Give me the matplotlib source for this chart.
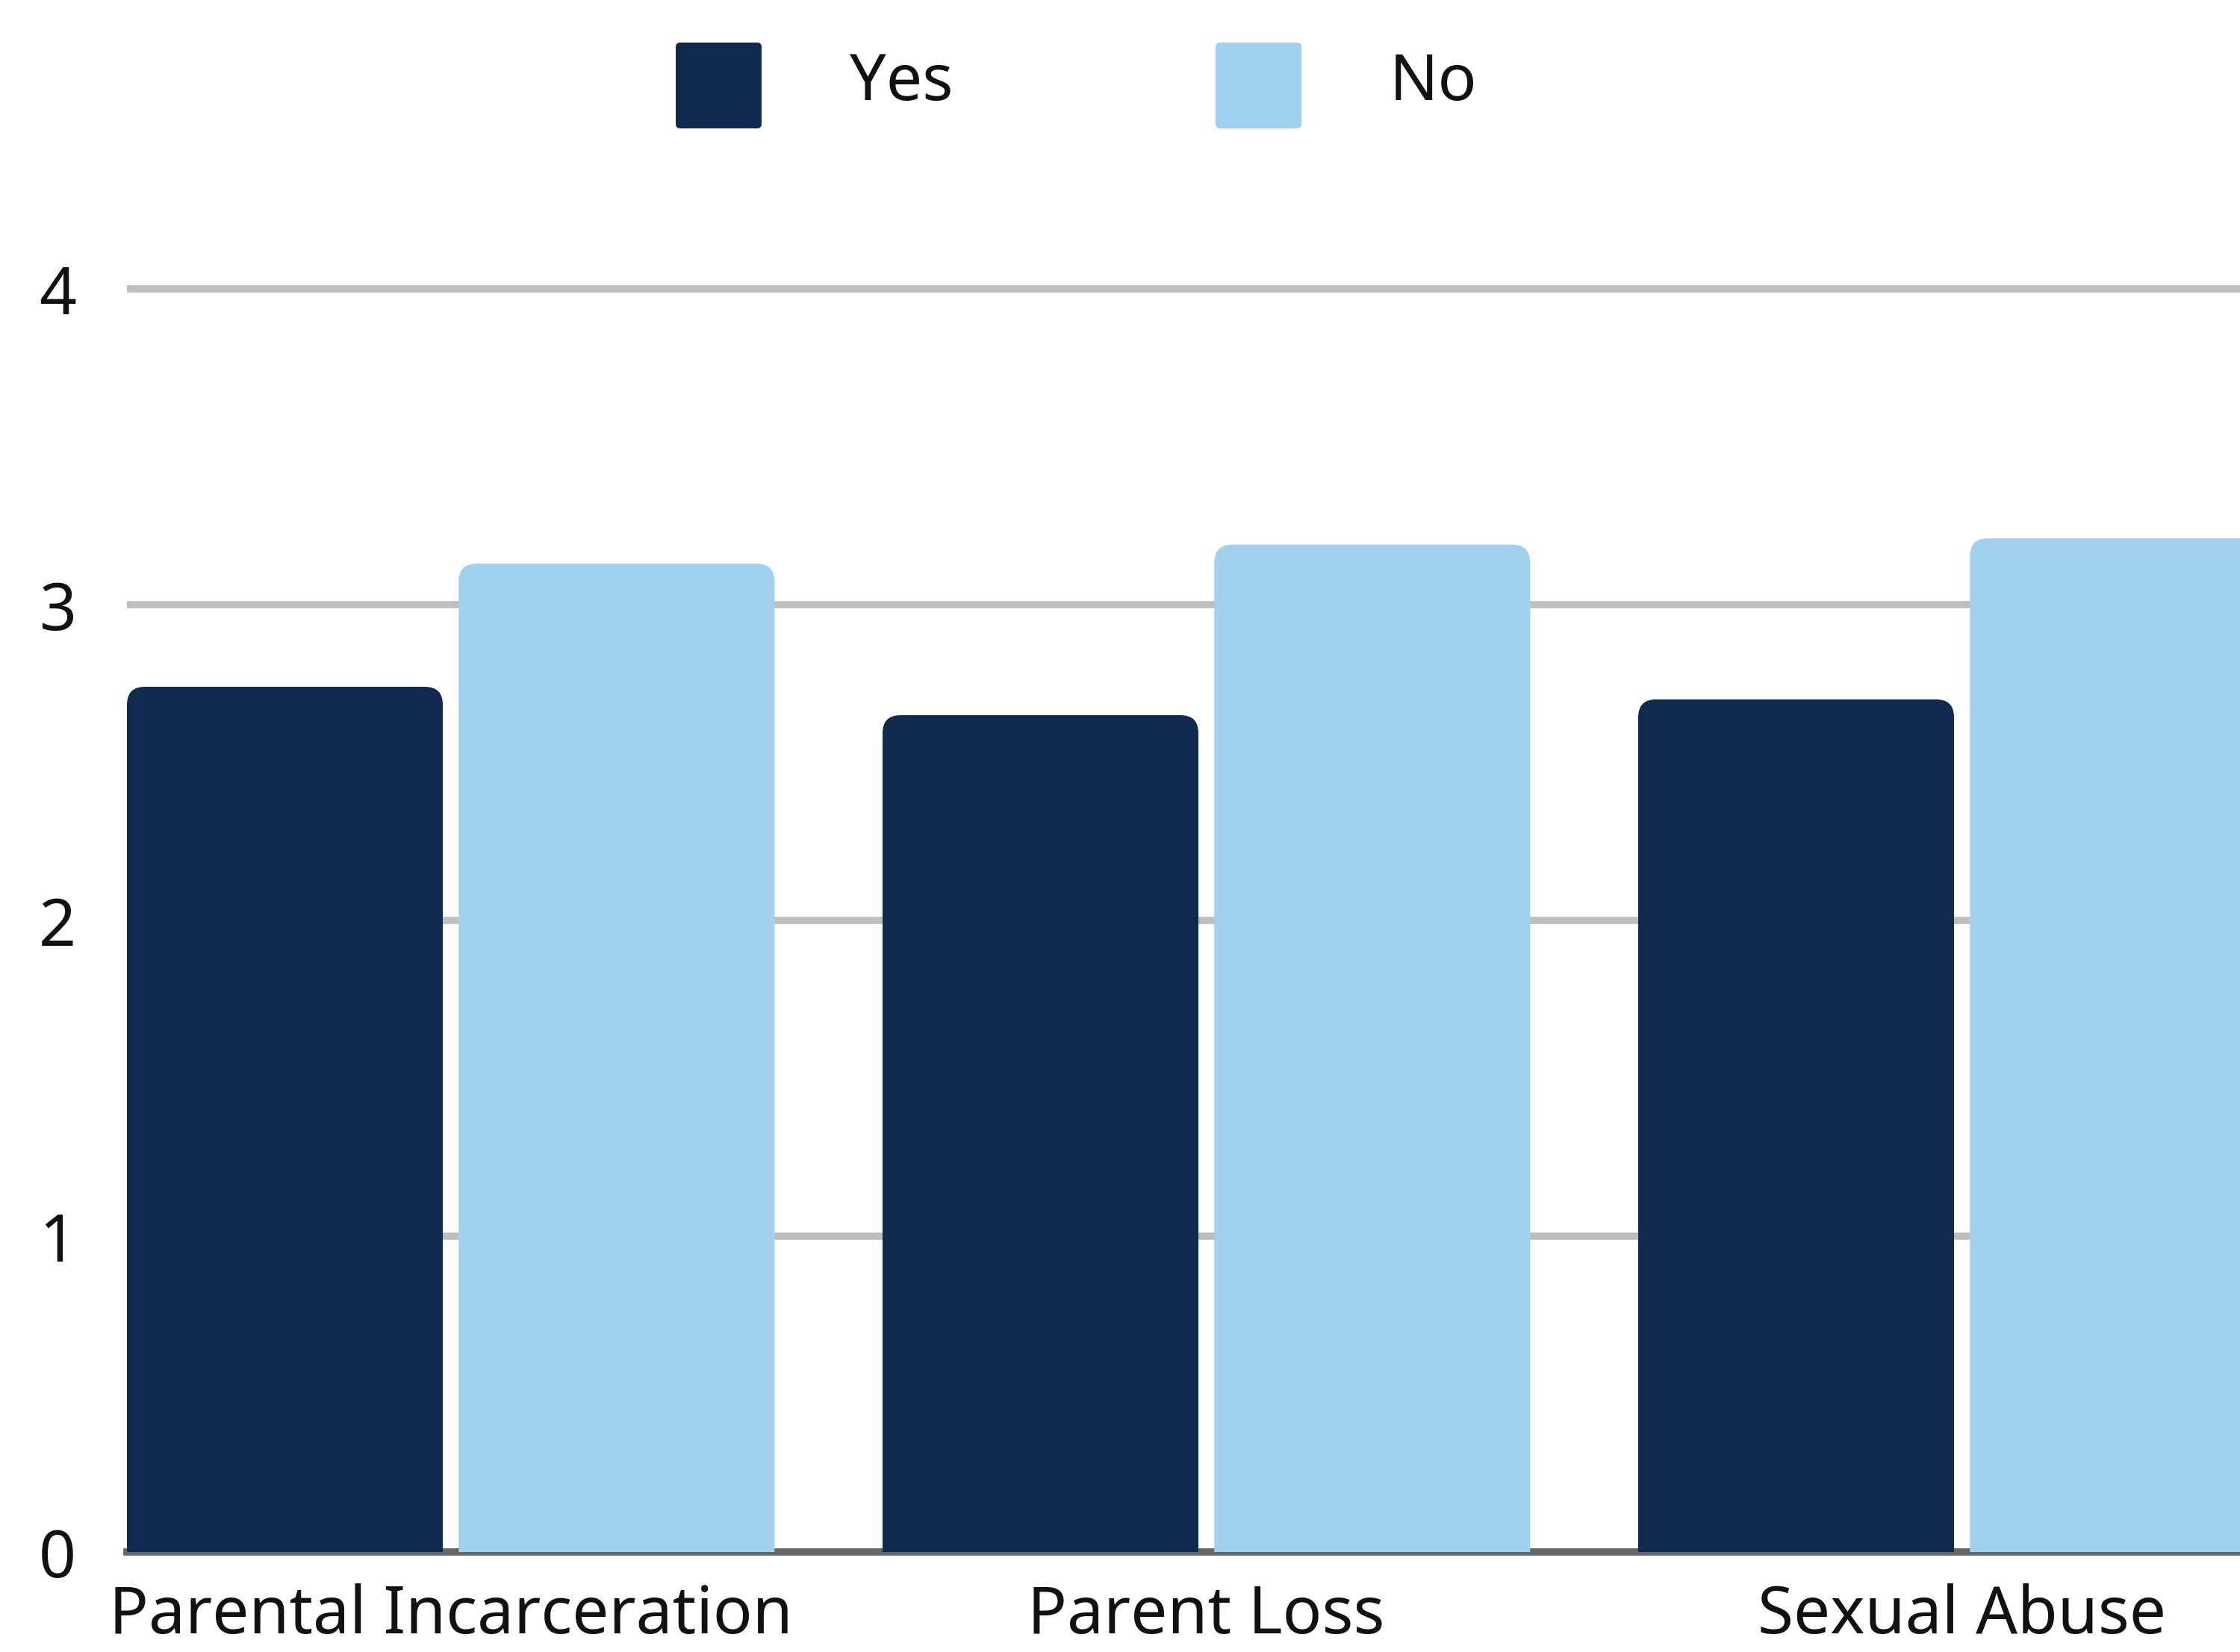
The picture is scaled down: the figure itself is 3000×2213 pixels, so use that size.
import numpy as np
import matplotlib
matplotlib.use("Agg")
import matplotlib.pyplot as plt
from matplotlib.patches import FancyBboxPatch

# data
categories = ["Parental Incarceration", "Parent Loss", "Sexual Abuse"]
yes_vals = [2.74, 2.65, 2.70]
no_vals = [3.13, 3.19, 3.21]
series_names = ["Yes", "No"]
yticks = [0, 1, 2, 3, 4]

navy = "#12294f"
light = "#a1d1ef"

plt.rcParams['font.family'] = ['Noto Sans', 'DejaVu Sans']

W, H = 3000, 2213
fig = plt.figure(figsize=(W / 100, H / 100), dpi=100)

# axes geometry (pixels)
left_px, base_px, unit_px = 170, 2079, 423
ymax = 4.2
ax = fig.add_axes([left_px / W, 1 - base_px / H, 1 - left_px / W, ymax * unit_px / H])

bw = 0.418
gap = 0.021
off = bw / 2 + gap / 2
x = np.arange(len(categories))
xmin = -off - bw / 2
xmax = xmin + (W - left_px) / 1012
ax.set_xlim(xmin, xmax)
ax.set_ylim(0, ymax)

# rounded tops
px_x = (W - left_px) / (xmax - xmin)
px_y = unit_px
r_px = 24
rx = r_px / px_x
aspect = px_x / px_y


def rounded_bars(xs, vals, color):
    bars = ax.bar(xs, vals, bw, color=color)
    for rect in bars:
        rect.set_visible(False)
        bx, by = rect.get_x(), rect.get_y()
        w, h = rect.get_width(), rect.get_height()
        ry = rx * aspect
        p = FancyBboxPatch((bx, by - ry), w, h + ry,
                           boxstyle="round,pad=0,rounding_size=%f" % rx,
                           mutation_aspect=aspect, facecolor=color,
                           edgecolor="none", zorder=3)
        ax.add_patch(p)


rounded_bars(x - off, yes_vals, navy)
rounded_bars(x + off, no_vals, light)

ax.set_yticks(yticks)
ax.set_xticks(x)
ax.set_xticklabels(categories)
ax.tick_params(axis='both', length=0, colors="#111111")
ax.tick_params(axis='y', pad=49, labelsize=63)
ax.tick_params(axis='x', pad=30, labelsize=63)

ax.set_axisbelow(True)
ax.yaxis.grid(True, color="#bfbfbf", linewidth=7)
ax.xaxis.grid(False)
for s in ["top", "right", "left"]:
    ax.spines[s].set_visible(False)
ax.spines["bottom"].set_color("#666666")
ax.spines["bottom"].set_linewidth(7)
ax.spines["bottom"].set_zorder(1)

# legend drawn by hand at the top
leg_boxes = [(905, navy), (1628, light)]
for (lx, col), name in zip(leg_boxes, series_names):
    fig.patches.append(FancyBboxPatch((lx / W, 1 - 172 / H), 115 / W, 115 / H,
                                      boxstyle="round,pad=0,rounding_size=0.002",
                                      mutation_aspect=W / H,
                                      transform=fig.transFigure,
                                      facecolor=col, edgecolor="none"))
    fig.text((lx + 233) / W, 1 - 112 / H, name, fontsize=62,
             va="center", ha="left", color="#111111")

fig.savefig("out.png", dpi=100)
